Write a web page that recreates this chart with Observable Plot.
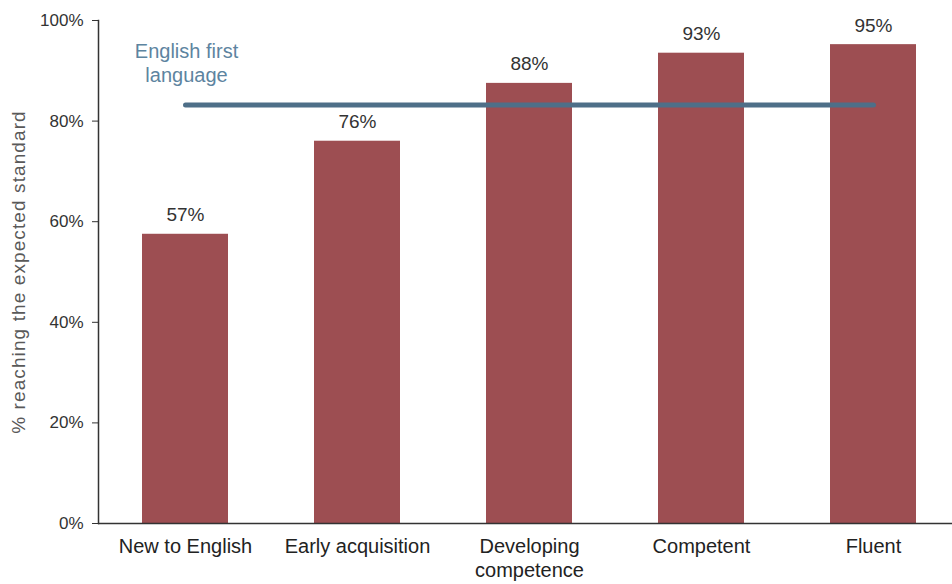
<!DOCTYPE html>
<html>
<head>
<meta charset="utf-8">
<script src="https://cdn.jsdelivr.net/npm/d3@7"></script>
<script src="https://cdn.jsdelivr.net/npm/@observablehq/plot@0.6"></script>
<style>
  html, body { margin: 0; padding: 0; background: #fff; }
  #chart svg { display: block; }
</style>
</head>
<body>
<div id="chart"></div>
<script>
const categories = ["New to English", "Early acquisition", "Developing competence", "Competent", "Fluent"];
const values = [57.5, 76, 87.5, 93.5, 95.2];
const valueLabels = ["57%", "76%", "88%", "93%", "95%"];
const englishFirst = 83.2;
const englishFirstLabel = "English first\nlanguage";
const yTicks = [0, 20, 40, 60, 80, 100];
const yTitle = "% reaching the expected standard";

const bars = categories.map((c, i) => ({category: c, value: values[i], label: valueLabels[i]}));
const refLine = categories.map(c => ({category: c, value: englishFirst}));

const font = "'Liberation Sans', Arial, sans-serif";

const chart = Plot.plot({
  width: 952,
  height: 584,
  marginTop: 20,
  marginBottom: 61,
  marginLeft: 98,
  marginRight: 0,
  style: {fontFamily: font, background: "#fff", overflow: "visible"},
  x: {domain: categories, range: [98, 960], paddingInner: 0.5, paddingOuter: 0.25},
  y: {domain: [0, 100]},
  marks: [
    Plot.barY(bars, {x: "category", y: "value", fill: "#9d4e52"}),
    Plot.text(bars, {x: "category", y: "value", text: "label", lineAnchor: "bottom", dy: -13, fontSize: 19, fill: "#333"}),
    Plot.lineY(refLine, {x: "category", y: "value", stroke: "#4e6f88", strokeWidth: 5}),
    Plot.text([englishFirstLabel], {x: () => categories[0], y: () => 96, text: d => d, lineAnchor: "top", lineHeight: 1.2, fontSize: 20, fill: "#5d84a0", dx: 1}),
    Plot.axisY({ticks: yTicks, tickFormat: d => d + "%", tickSize: 6, tickPadding: 9, fontSize: 17, color: "#333", label: null, stroke: "#333"}),
    Plot.axisX({tickSize: 0, tickPadding: 12, fontSize: 20, color: "#222", label: null, lineHeight: 1.2,
      tickFormat: d => d === "Developing competence" ? "Developing\ncompetence" : d}),
    Plot.ruleY([0], {stroke: "#333", strokeWidth: 1.5}),
    Plot.frame({anchor: "left", stroke: "#333", strokeWidth: 1.5}),
    Plot.text([yTitle], {frameAnchor: "left", textAnchor: "middle", text: d => d, rotate: -90, dx: -80, fontSize: 19, fill: "#595959"})
  ]
});
d3.select(chart).selectAll("text").filter(function() { return this.textContent === yTitle; })
  .attr("letter-spacing", "1.1px");
document.getElementById("chart").appendChild(chart);
</script>
</body>
</html>
